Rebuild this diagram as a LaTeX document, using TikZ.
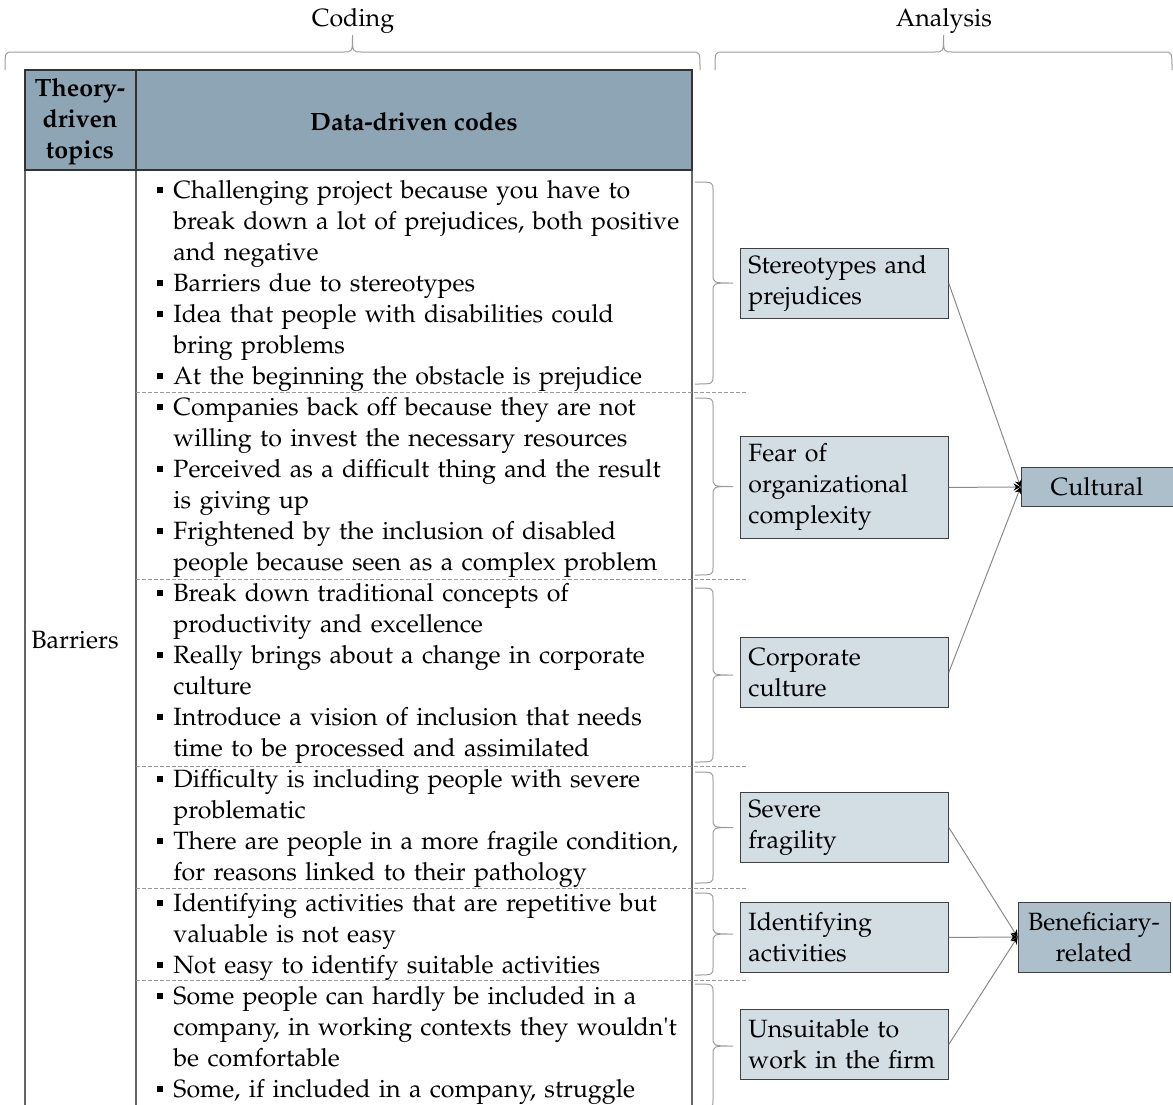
\documentclass[tikz,border=0pt]{standalone}
\usepackage[T1]{fontenc}
\usepackage{mathpazo}
\usepackage{tikz}
\usetikzlibrary{arrows.meta,positioning}
\definecolor{headblue}{HTML}{8EA5B5}
\definecolor{codeblue}{HTML}{D2DDE4}
\definecolor{themeblue}{HTML}{AEBFCC}
\definecolor{linegray}{HTML}{8A8A8A}
\newcommand{\bul}{\leavevmode\llap{\rule[2.3pt]{3.1pt}{3.1pt}\hspace{5pt}}}
% brace pointing right: top, bottom
\newcommand{\vbrace}[2]{\draw[grp] (695,#1) .. controls (713,#1) .. (713,{#1+8})
  -- (713,{(#1+#2)/2-9}) .. controls (713,{(#1+#2)/2}) .. (733,{(#1+#2)/2})
  .. controls (713,{(#1+#2)/2}) .. (713,{(#1+#2)/2+9})
  -- (713,{#2-8}) .. controls (713,#2) .. (695,#2);}
% brace pointing up: left, right
\newcommand{\hbrace}[2]{\draw[grp] (#1,70) .. controls (#1,52) .. ({#1+8},52)
  -- ({(#1+#2)/2-9},52) .. controls ({(#1+#2)/2},52) .. ({(#1+#2)/2},35)
  .. controls ({(#1+#2)/2},52) .. ({(#1+#2)/2+9},52)
  -- ({#2-8},52) .. controls (#2,52) .. (#2,70);}

\begin{document}
\begin{tikzpicture}[x=0.5pt,y=-0.5pt,
  every node/.style={font=\fontsize{12.5}{15.5}\selectfont},
  head/.style={font=\fontsize{12.5}{15.5}\selectfont\bfseries,align=center},
  codes/.style={anchor=base west,inner sep=0pt,text width=300pt,align=left},
  subtheme/.style={draw=black!75,fill=codeblue,anchor=north west,minimum width=104pt,
    minimum height=35pt,text width=96pt,inner xsep=4pt,align=left},
  theme/.style={draw=black!75,fill=themeblue,minimum width=76pt,align=center},
  sep/.style={draw=black!40,dash pattern=on 2pt off 1pt,line width=0.4pt},
  grp/.style={draw=linegray!85,line width=0.5pt},
  link/.style={draw=linegray,line width=0.5pt,-{Stealth[length=3.5pt,width=3.5pt,black]}}]
  \useasboundingbox (0,0) rectangle (1173,1104);
  \clip (0,0) rectangle (1173,1104);

  % top braces
  \node (coding) at (353,21) {Coding};
  \node (analysis) at (944,21) {Analysis};
  \hbrace{5}{700}
  \hbrace{715}{1172}

  % table
  \fill[headblue] (25,70) rectangle (692,170);
  \draw[black!60,line width=0.6pt] (25,170) -- (25,1110) (136,170) -- (136,1110) (692,170) -- (692,1110);
  \draw[black!80,line width=0.9pt] (25,70) rectangle (692,170) (136,70) -- (136,170);
  \node[head] (topics) at (80,122) {Theory-\\driven\\topics};
  \node[head] (datacodes) at (414,122) {Data-driven codes};
  \node (barriers) at (75,640) {Barriers};

  \node[codes] (g1) at (173,198) {\bul Challenging project because you have to\\
    break down a lot of prejudices, both positive\\ and negative\\
    \bul Barriers due to stereotypes\\
    \bul Idea that people with disabilities could\\ bring problems\\
    \bul At the beginning the obstacle is prejudice};
  \node[codes] (g2) at (173,415) {\bul Companies back off because they are not\\
    willing to invest the necessary resources\\
    \bul Perceived as a difficult thing and the result\\ is giving up\\
    \bul Frightened by the inclusion of disabled\\ people because seen as a complex problem};
  \node[codes] (g3) at (173,601) {\bul Break down traditional concepts of\\ productivity and excellence\\
    \bul Really brings about a change in corporate\\ culture\\
    \bul Introduce a vision of inclusion that needs\\ time to be processed and assimilated};
  \node[codes] (g4) at (173,787) {\bul Difficulty is including people with severe\\ problematic\\
    \bul There are people in a more fragile condition,\\ for reasons linked to their pathology};
  \node[codes] (g5) at (173,911) {\bul Identifying activities that are repetitive but\\ valuable is not easy\\
    \bul Not easy to identify suitable activities};
  \node[codes] (g6) at (173,1004) {\bul Some people can hardly be included in a\\
    company, in working contexts they wouldn\textquotesingle t\\ be comfortable\\
    \bul Some, if included in a company, struggle};

  \foreach \y in {392,579,766,888,980}
    \draw[sep] (136,\y) -- (748,\y);

  % group braces
  \vbrace{182}{384}
  \vbrace{398}{575}
  \vbrace{588}{762}
  \vbrace{772}{883}
  \vbrace{893}{975}
  \vbrace{984}{1108}

  % analysis
  \node[subtheme] (stereo) at (740,248) {Stereotypes and\\ prejudices};
  \node[subtheme,minimum height=51pt] (fear) at (740,436) {Fear of\\ organizational\\ complexity};
  \node[subtheme] (corp) at (740,637) {Corporate\\ culture};
  \node[subtheme] (severe) at (740,792) {Severe\\ fragility};
  \node[subtheme] (ident) at (740,902) {Identifying\\ activities};
  \node[subtheme] (unsuit) at (740,1009) {Unsuitable to\\ work in the firm};

  \node[theme,minimum height=19.5pt] (cultural) at (1097,487) {Cultural};
  \node[theme,minimum height=35pt] (benef) at (1094,937) {Beneficiary-\\related};

  \draw[link] (stereo.east) -- (cultural.west);
  \draw[link] (fear.east) -- (cultural.west);
  \draw[link] (corp.east) -- (cultural.west);
  \draw[link] (severe.east) -- (benef.west);
  \draw[link] (ident.east) -- (benef.west);
  \draw[link] (unsuit.east) -- (benef.west);
\end{tikzpicture}
\end{document}
